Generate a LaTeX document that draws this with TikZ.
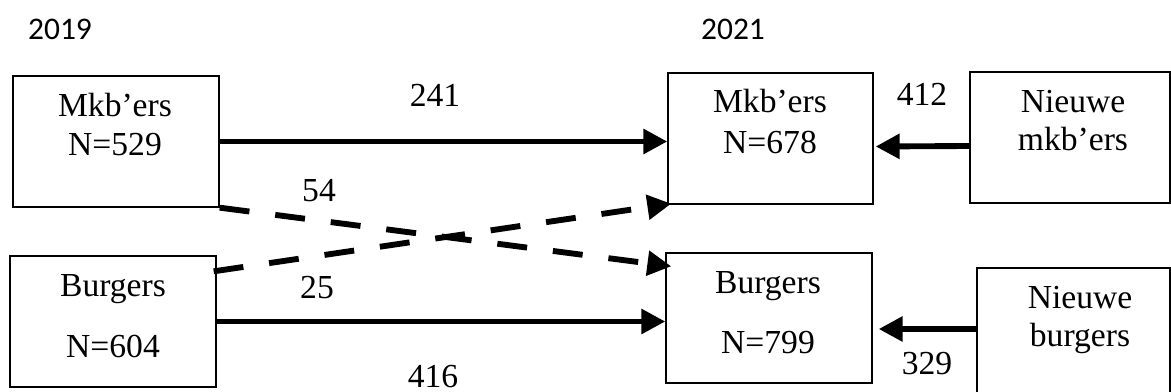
\documentclass[tikz,border=0pt]{standalone}
\usepackage{fontspec}
\setmainfont{Liberation Serif}
\newfontfamily\yearfont{Carlito}
\usetikzlibrary{arrows.meta,calc}
\begin{document}
\begin{tikzpicture}[x=0.75pt,y=-0.75pt,
  box/.style 2 args={draw,line width=1pt,inner sep=0pt,minimum width=#1,minimum height=#2},
  txt/.style={anchor=base,inner sep=0pt,font=\fontsize{25.2}{30}\selectfont},
  yr/.style={inner sep=0pt,font=\yearfont\fontsize{23.6}{28}\selectfont},
  flow/.style={line width=4.4pt,-{Triangle[length=18pt,width=18pt]}},
  dflow/.style={flow,dash pattern=on 22.5pt off 19.5pt}]
\useasboundingbox (0,0) rectangle (1171,392);

% years
\node[yr] (y1) at (60,29) {2019};
\node[yr] (y2) at (733,29) {2021};

% boxes
\node[box={154.5pt}{98.25pt}] (A) at (116,141.5) {};
\node[box={154.5pt}{98.25pt}] (B) at (113,321.5) {};
\node[box={153.75pt}{98.25pt}] (C) at (770.5,138.5) {};
\node[box={154.5pt}{97.5pt}] (D) at (769,318) {};
\node[box={150pt}{98.25pt}] (E) at (1070,137.5) {};
\node[box={144.75pt}{99pt}] (F) at (1073.5,334) {};

% box texts
\node[txt] (A1) at (115,117) {Mkb’ers};
\node[txt] (A2) at (115,156) {N=529};
\node[txt] (B1) at (113,296) {Burgers};
\node[txt] (B2) at (113,357) {N=604};
\node[txt] (C1) at (770,113) {Mkb’ers};
\node[txt] (C2) at (770,154) {N=678};
\node[txt] (D1) at (768,293) {Burgers};
\node[txt] (D2) at (768,353) {N=799};
\node[txt] (E1) at (1073,113) {Nieuwe};
\node[txt] (E2) at (1073,151) {mkb’ers};
\node[txt] (F1) at (1080,308) {Nieuwe};
\node[txt] (F2) at (1080,346) {burgers};

% connectors
\draw[flow] (A.east) -- (C.west |- A.east);
\draw[flow] (B.east) -- (D.west |- B.east);
\draw[dflow] (A.south east) -- ($(D.north west)+(6,14)$);
\draw[dflow] ($(B.north east)+(-3,16)$) -- ($(C.south west)+(4,-1)$);
\draw[flow] ($(E.west)+(0,8.5)$) -- ($(C.east)+(2,8)$);
\draw[flow] ($(F.west)+(0,-5)$) -- ($(D.east)+(6,11)$);

% flow labels
\node[txt] (l241) at (435,107) {241};
\node[txt] (l54) at (319,202) {54};
\node[txt] (l25) at (317,298) {25};
\node[txt] (l416) at (433,387) {416};
\node[txt] (l412) at (922,106) {412};
\node[txt] (l329) at (927,374) {329};
\end{tikzpicture}
\end{document}
